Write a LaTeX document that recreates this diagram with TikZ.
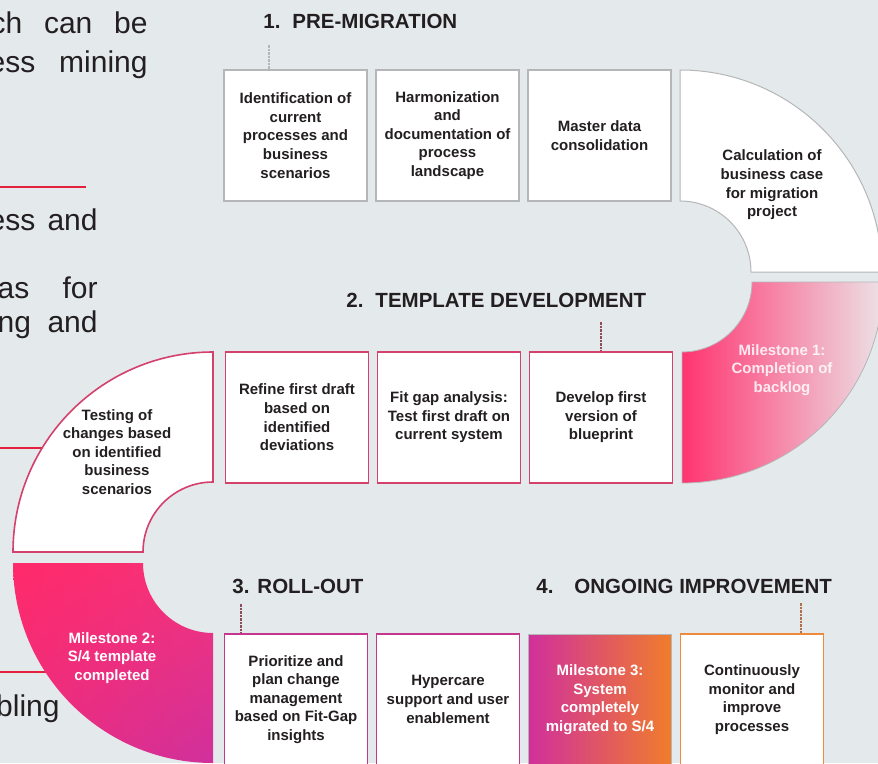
\documentclass[tikz,border=0pt]{standalone}
\usepackage{fontspec}
\setmainfont{Liberation Sans}
\usetikzlibrary{shadings}

\definecolor{bg}{HTML}{E4E9EC}
\definecolor{ink}{HTML}{231F20}
\definecolor{redline}{HTML}{E3213F}
\definecolor{greyline}{HTML}{B4B6B8}
\definecolor{rosered}{HTML}{D4416D}
\definecolor{magent}{HTML}{C4378C}
\definecolor{orangeline}{HTML}{EE8A3C}
\definecolor{hotpink}{HTML}{FF3470}
\definecolor{midpink}{HTML}{F6A3BA}
\definecolor{palepink}{HTML}{ECE2E6}
\definecolor{pinkred}{HTML}{FF2A6A}
\definecolor{deepmag}{HTML}{D0309C}
\definecolor{msorange}{HTML}{F07D2C}
\definecolor{tickred}{HTML}{8C4C5C}
\definecolor{tickbrown}{HTML}{B0704C}

\begin{document}
\begin{tikzpicture}[x=1pt,y=1pt,thick,node distance=152pt,
    task node/.style={rectangle,draw,fill=white,minimum width=143pt,
      minimum height=131pt,inner sep=0pt,line width=1.6pt,align=center,
      text=ink,font=\bfseries\fontsize{15}{18.6}\selectfont},
    bend text/.style={align=center,inner sep=0pt,text=ink,
      font=\bfseries\fontsize{15}{18.6}\selectfont},
    stone text/.style={bend text,text=white},
    phase node/.style={anchor=base west,inner sep=0pt,text=ink,
      font=\bfseries\fontsize{20.5}{24}\selectfont},
    side text/.style={anchor=base east,inner sep=0pt,text=ink,
      font=\fontsize{30}{36}\selectfont},
    tick line/.style={line width=1.3pt,dash pattern=on 2.5pt off 1pt}]
    \useasboundingbox (0,0) rectangle (878,-763);
    \clip (0,0) rectangle (878,-763);
    \fill[bg] (0,0) rectangle (878,-763);

    % text cut off on the left
    \node[side text] (s1) at (148,-33) {\makebox[157pt][s]{ch can be}};
    \node[side text] (s2) at (148,-72) {\makebox[159pt][s]{ess mining}};
    \node[side text] (s3) at (98,-230) {\makebox[109pt][s]{ess and}};
    \node[side text] (s4) at (98,-298) {\makebox[100pt][s]{as for}};
    \node[side text] (s5) at (98,-332) {\makebox[100pt][s]{ng and}};
    \node[side text] (s6) at (60,-716) {bling};
    \draw[redline,line width=2.7pt] (0,-187) -- (86,-187);
    \draw[redline,line width=2.4pt] (0,-448) -- (60,-448);
    \draw[redline,line width=2.4pt] (0,-672) -- (60,-672);

    % 1. pre-migration
    \node[phase node] (p1) at (263,-28) {1.\hspace{12pt}PRE-MIGRATION};
    \node[task node,draw=greyline] (1) at (295.5,-135.5)
      {Identification of\\current\\processes and\\business\\scenarios};
    \node[task node,draw=greyline] (2) [right of=1]
      {Harmonization\\and\\documentation of\\process\\landscape};
    \node[task node,draw=greyline] (3) [right of=2] {Master data\\consolidation};
    \filldraw[fill=white,draw=greyline,line width=1pt] (680,-70)
      arc[start angle=90,end angle=0,radius=202] -- (751,-272)
      arc[start angle=0,end angle=90,radius=71] -- cycle;
    \node[bend text] (4) at (772,-185)
      {Calculation of\\business case\\for migration\\project};
    \coordinate (k1) at (269,-45);
    \draw[tick line,greyline] (k1) -- (k1 |- 1.north);

    % 2. template development
    \node[phase node] (p2) at (346,-307) {2.\hspace{12pt}TEMPLATE DEVELOPMENT};
    \shadedraw[left color=hotpink,middle color=midpink,right color=palepink,
      draw=greyline,line width=0.8pt] (682,-352) -- (682,-483)
      arc[start angle=270,end angle=360,radius=201] -- (752,-282)
      arc[start angle=0,end angle=-90,radius=70] -- cycle;
    \node[stone text,text opacity=0.85] (5) at (782,-370)
      {Milestone 1:\\Completion of\\backlog};
    \node[task node,draw=rosered] (6) at (601,-417.5)
      {Develop first\\version of\\blueprint};
    \node[task node,draw=rosered] (7) [left of=6]
      {Fit gap analysis:\\Test first draft on\\current system};
    \node[task node,draw=rosered] (8) [left of=7]
      {Refine first draft\\based on\\identified\\deviations};
    \filldraw[fill=white,draw=rosered,line width=1.6pt] (213,-352)
      arc[start angle=90,end angle=180,radius=200] -- (143,-552)
      arc[start angle=180,end angle=90,radius=70] -- cycle;
    \node[bend text] (9) at (117,-452)
      {Testing of\\changes based\\on identified\\business\\scenarios};
    \coordinate (k2) at (601,-322);
    \draw[tick line,tickred] (k2) -- (k2 |- 6.north);

    % 3. roll-out
    \shade[upper left=pinkred,upper right=hotpink!80!deepmag,
      lower left=pinkred!60!deepmag,lower right=deepmag] (13,-563)
      arc[start angle=180,end angle=270,radius=200] -- (213,-633)
      arc[start angle=270,end angle=180,radius=70] -- cycle;
    \node[stone text] (10) at (112,-658)
      {Milestone 2:\\S/4 template\\completed};
    \node[phase node] (p3) at (232,-593) {3.\hspace{8pt}ROLL-OUT};
    \node[task node,draw=magent] (11) at (296,-699.5)
      {Prioritize and\\plan change\\management\\based on Fit-Gap\\insights};
    \node[task node,draw=magent] (12) [right of=11]
      {Hypercare\\support and user\\enablement};
    \coordinate (k3) at (241,-604);
    \draw[tick line,tickred] (k3) -- (k3 |- 11.north);

    % 4. ongoing improvement
    \node[phase node] (p4) at (536,-593) {4.\hspace{21pt}ONGOING IMPROVEMENT};
    \node[task node,draw=greyline,line width=0.8pt,left color=deepmag,
      right color=msorange,text=white] (13) [right of=12]
      {Milestone 3:\\System\\completely\\migrated to S/4};
    \node[task node,draw=orangeline] (14) [right of=13]
      {Continuously\\monitor and\\improve\\processes};
    \coordinate (k4) at (801,-603);
    \draw[tick line,tickbrown] (k4) -- (k4 |- 14.north);
\end{tikzpicture}
\end{document}
